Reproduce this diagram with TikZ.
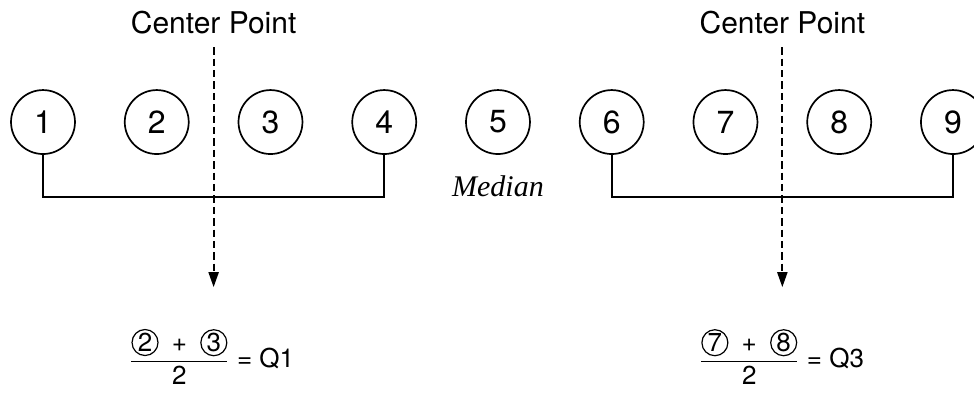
\documentclass[tikz,border=0pt]{standalone}
\usepackage{amsmath}
\usepackage{fontspec}
\setmainfont{TeX Gyre Heros}
\newfontfamily\medfont{Liberation Serif}
\usetikzlibrary{arrows.meta}
\newcommand{\cnum}[1]{\tikz[baseline]\node[cnumbox]{#1};}
\newcommand{\plusop}{\hspace{3pt} + \hspace{3pt}}

\tikzset{
  ball/.style={draw, circle, line width=0.85pt, minimum size=32pt, inner sep=0pt,
    font=\fontsize{16}{19}\selectfont},
  cnumbox/.style={draw, circle, anchor=base, minimum size=13pt, inner sep=0pt,
    line width=0.6pt},
  bracket/.style={line width=1pt},
  dasharrow/.style={-{Triangle[length=7.5pt,width=5pt]}, line width=1pt,
    dash pattern=on 3.7pt off 2pt, shorten <=3pt},
  lbl/.style={font=\fontsize{15}{18}\selectfont},
  formula/.style={anchor=base, font=\fontsize{13}{15}\selectfont}
}

\begin{document}
\begin{tikzpicture}[x=2cm,y=2cm]
    \useasboundingbox (0,0) rectangle (8.563,-3.464);

    \node[ball] (1) at (0.378,-1.073) {1};
    \node[ball] (2) at (1.378,-1.073) {2};
    \node[ball] (3) at (2.378,-1.073) {3};
    \node[ball] (4) at (3.378,-1.073) {4};
    \node[ball] (5) at (4.378,-1.073) {5};
    \node[ball] (6) at (5.378,-1.073) {6};
    \node[ball] (7) at (6.378,-1.073) {7};
    \node[ball] (8) at (7.378,-1.073) {8};
    \node[ball] (9) at (8.378,-1.073) {9};

    \node[lbl] (c1) at (1.878,-0.2) {Center Point};
    \node[lbl] (c2) at (6.878,-0.2) {Center Point};
    \node[font=\medfont\itshape\fontsize{15}{18}\selectfont] (med) at (4.378,-1.635) {Median};

    \coordinate (t1) at (1.878,-2.525);
    \coordinate (t2) at (6.878,-2.525);

    \node[formula] (q1) at (1.86,-3.235)
        {$\dfrac{\text{\cnum{2}\plusop\cnum{3}}}{\text{2}}\text{ = Q1}$};
    \node[formula] (q3) at (6.87,-3.235)
        {$\dfrac{\text{\cnum{7}\plusop\cnum{8}}}{\text{2}}\text{ = Q3}$};

    % lower and upper half
    \draw[bracket] (1.south) -- ++(0,-0.369) -| (4.south);
    \draw[bracket] (6.south) -- ++(0,-0.369) -| (9.south);

    \draw[dasharrow] (c1) -- (t1);
    \draw[dasharrow] (c2) -- (t2);
\end{tikzpicture}
\end{document}
